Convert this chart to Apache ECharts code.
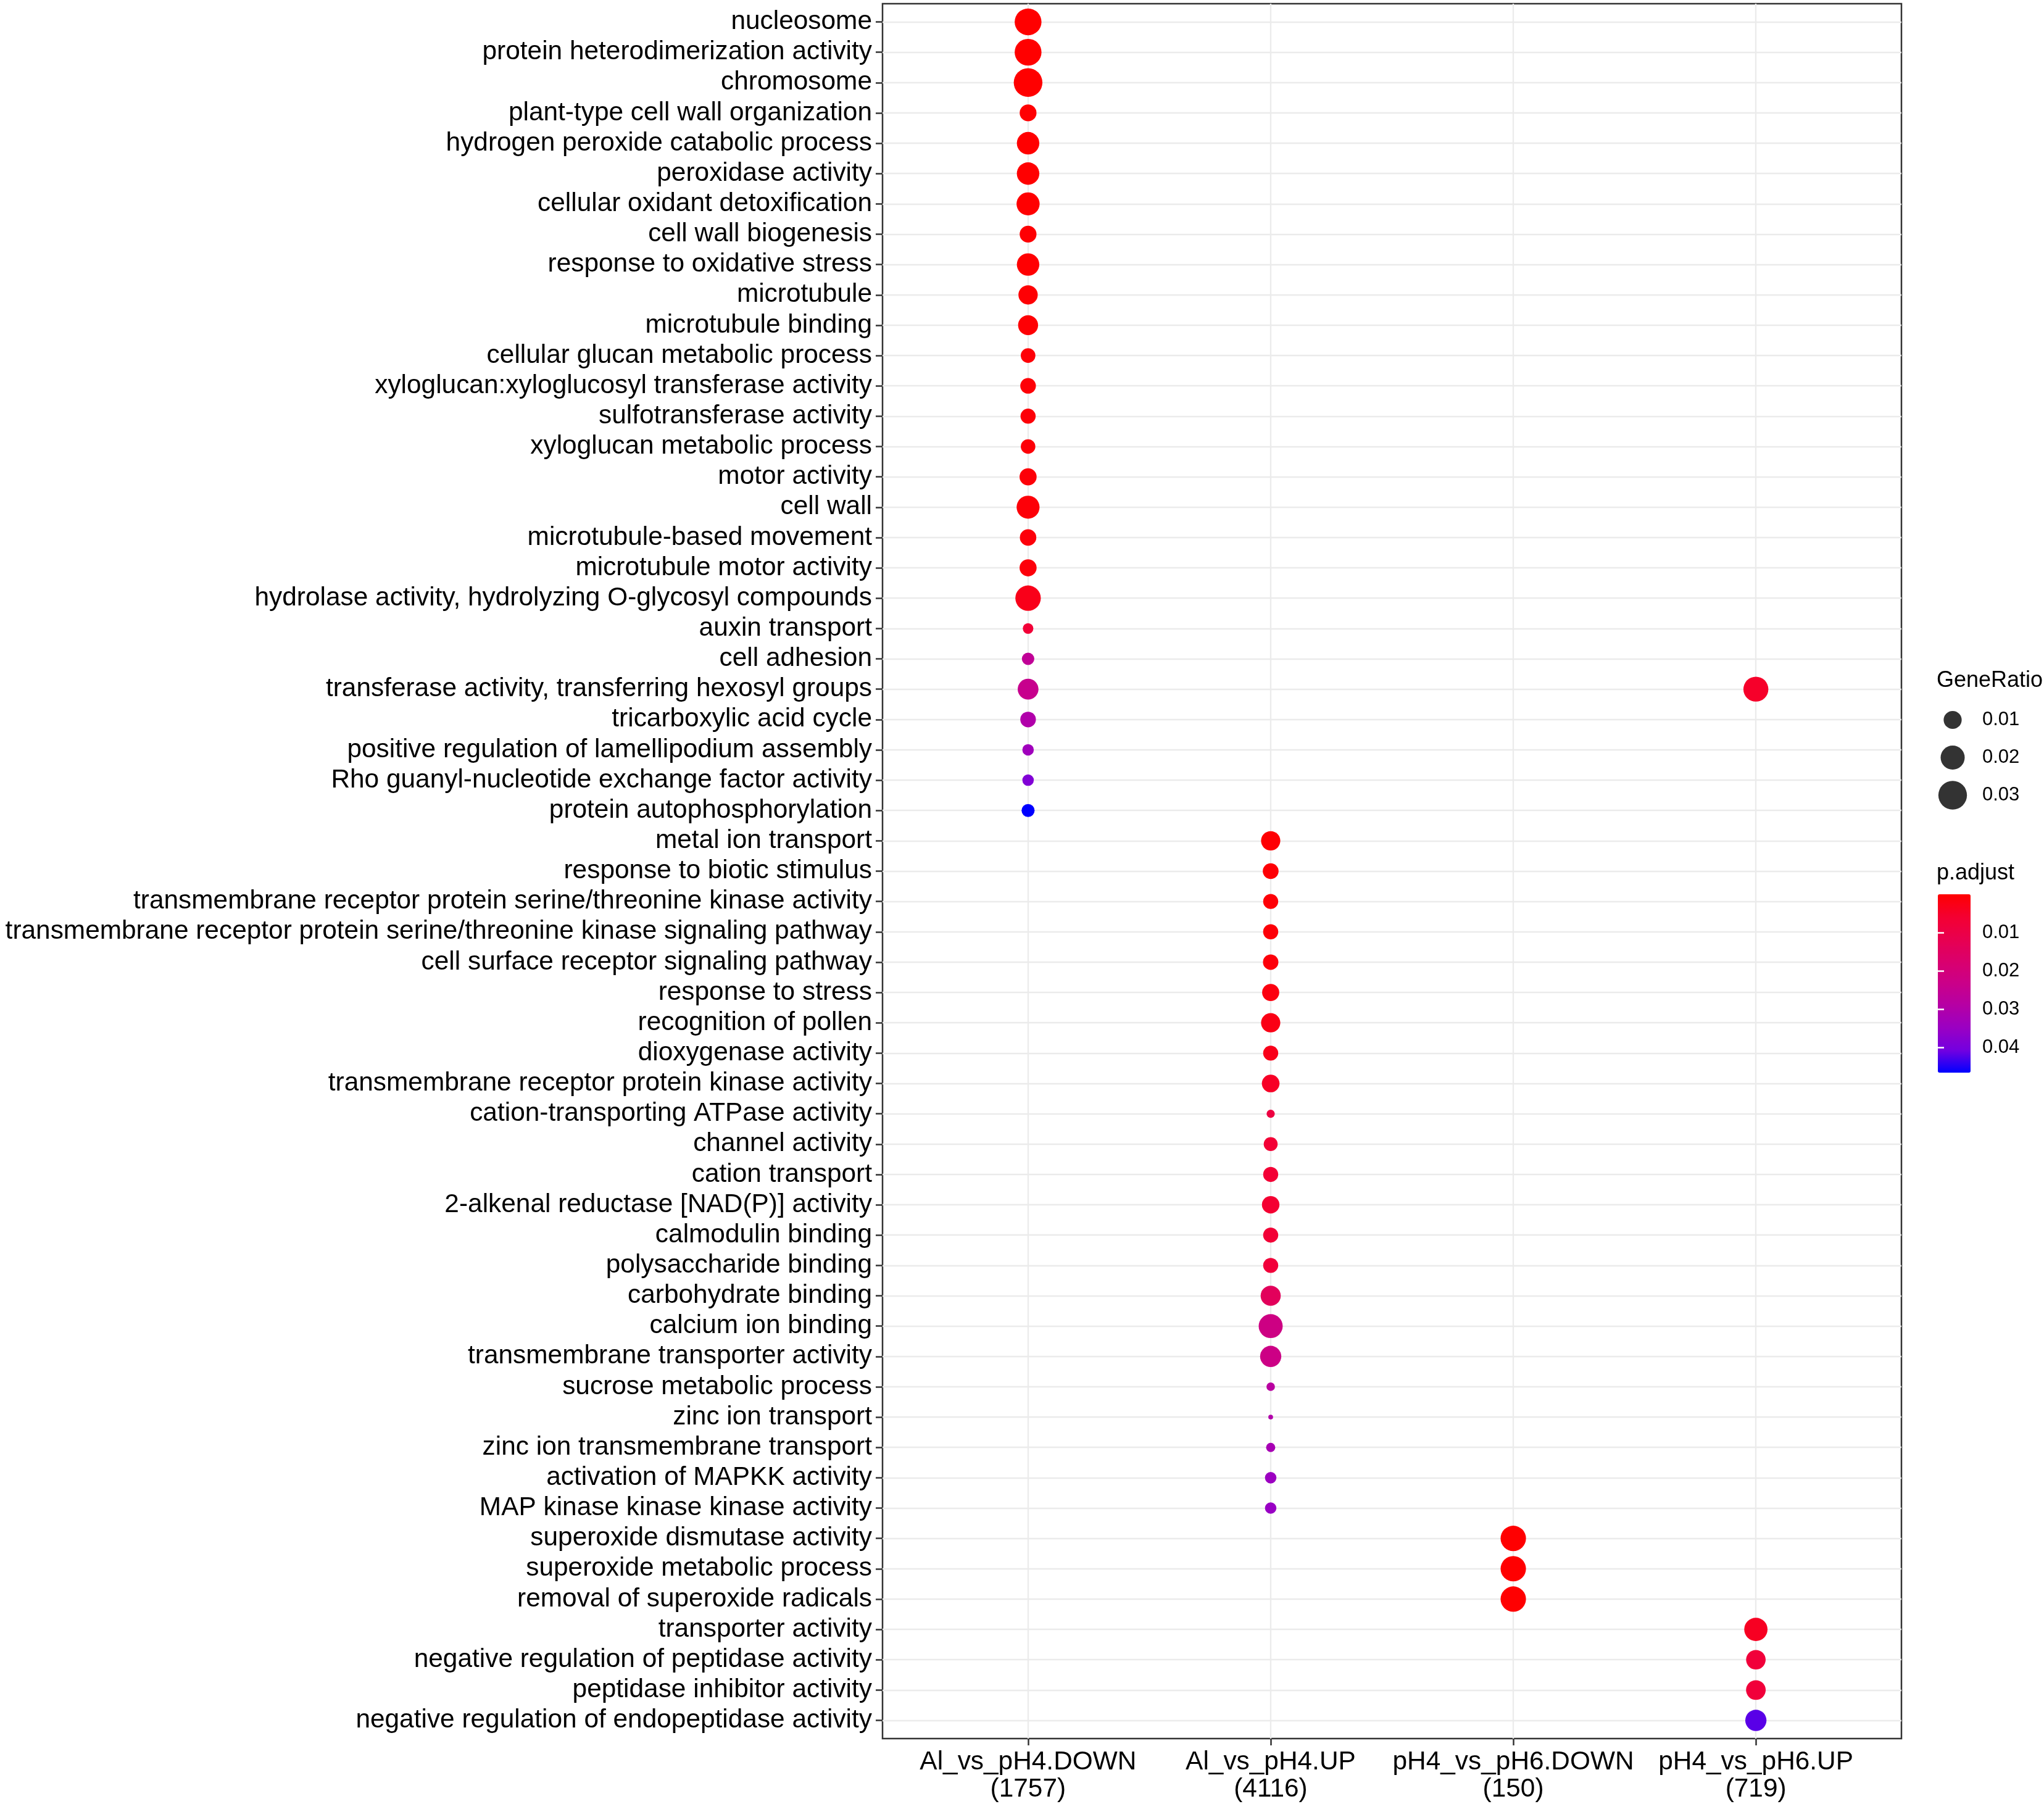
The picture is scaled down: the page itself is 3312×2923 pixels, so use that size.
<!DOCTYPE html>
<html style="height: 100%">
<head>
    <meta charset="utf-8">
    <script src="https://cdn.jsdelivr.net/npm/echarts@6.0.0/dist/echarts.min.js"></script>
</head>
<body style="height: 100%; margin: 0; background: #fff">
<div id="main" style="width: 3312px; height: 2923px;"></div>
<script type="text/javascript">
    // GO terms, top to bottom
    const termOrder = [
        'nucleosome', 'protein heterodimerization activity', 'chromosome', 'plant-type cell wall organization',
        'hydrogen peroxide catabolic process', 'peroxidase activity', 'cellular oxidant detoxification',
        'cell wall biogenesis', 'response to oxidative stress', 'microtubule', 'microtubule binding',
        'cellular glucan metabolic process', 'xyloglucan:xyloglucosyl transferase activity', 'sulfotransferase activity',
        'xyloglucan metabolic process', 'motor activity', 'cell wall', 'microtubule-based movement',
        'microtubule motor activity', 'hydrolase activity, hydrolyzing O-glycosyl compounds', 'auxin transport',
        'cell adhesion', 'transferase activity, transferring hexosyl groups', 'tricarboxylic acid cycle',
        'positive regulation of lamellipodium assembly', 'Rho guanyl-nucleotide exchange factor activity',
        'protein autophosphorylation',
        'metal ion transport', 'response to biotic stimulus',
        'transmembrane receptor protein serine/threonine kinase activity',
        'transmembrane receptor protein serine/threonine kinase signaling pathway',
        'cell surface receptor signaling pathway', 'response to stress', 'recognition of pollen', 'dioxygenase activity',
        'transmembrane receptor protein kinase activity', 'cation-transporting ATPase activity', 'channel activity',
        'cation transport', '2-alkenal reductase [NAD(P)] activity', 'calmodulin binding', 'polysaccharide binding',
        'carbohydrate binding', 'calcium ion binding', 'transmembrane transporter activity', 'sucrose metabolic process',
        'zinc ion transport', 'zinc ion transmembrane transport', 'activation of MAPKK activity',
        'MAP kinase kinase kinase activity',
        'superoxide dismutase activity', 'superoxide metabolic process', 'removal of superoxide radicals',
        'transporter activity', 'negative regulation of peptidase activity', 'peptidase inhibitor activity',
        'negative regulation of endopeptidase activity'
    ];

    const clusterLabels = ['Al_vs_pH4.DOWN\n(1757)', 'Al_vs_pH4.UP\n(4116)', 'pH4_vs_pH6.DOWN\n(150)', 'pH4_vs_pH6.UP\n(719)'];

    // Al_vs_pH4.DOWN
    const alDownTerms = termOrder.slice(0, 27);
    const alDownRatio = [0.0258, 0.0258, 0.0302, 0.0084, 0.0170, 0.0170, 0.0181, 0.0084, 0.0170, 0.0118, 0.0128,
        0.0060, 0.0070, 0.0065, 0.0059, 0.0087, 0.0179, 0.0080, 0.0087, 0.0228, 0.0027, 0.0040, 0.0141, 0.0070,
        0.0033, 0.0033, 0.0045];
    const alDownPadj = [0.00001, 0.00002, 0.00003, 0.0002, 0.0001, 0.0001, 0.0001, 0.0004, 0.0002, 0.0005, 0.0005,
        0.0008, 0.0008, 0.0009, 0.001, 0.001, 0.001, 0.0012, 0.0012, 0.003, 0.007, 0.026, 0.024, 0.030,
        0.0335, 0.0386, 0.0465];

    // Al_vs_pH4.UP
    const alUpTerms = termOrder.slice(27, 50);
    const alUpRatio = [0.0117, 0.0072, 0.0064, 0.0065, 0.0068, 0.0088, 0.0117, 0.0064, 0.0095, 0.0016, 0.0053,
        0.0064, 0.0093, 0.0064, 0.0064, 0.0130, 0.0199, 0.0148, 0.0017, 0.0010, 0.0020, 0.0033, 0.0033];
    const alUpPadj = [0.0004, 0.0006, 0.0008, 0.001, 0.0012, 0.0018, 0.0025, 0.003, 0.0045, 0.009, 0.0065,
        0.0065, 0.006, 0.0068, 0.0075, 0.014, 0.022, 0.0225, 0.028, 0.030, 0.032, 0.0345, 0.035];

    // pH4_vs_pH6.DOWN
    const ph6DownTerms = ['superoxide dismutase activity', 'superoxide metabolic process', 'removal of superoxide radicals'];
    const ph6DownRatio = [0.0227, 0.0227, 0.0227];
    const ph6DownPadj = [0.0001, 0.0001, 0.0001];

    // pH4_vs_pH6.UP
    const ph6UpTerms = ['transferase activity, transferring hexosyl groups', 'transporter activity',
        'negative regulation of peptidase activity', 'peptidase inhibitor activity',
        'negative regulation of endopeptidase activity'];
    const ph6UpRatio = [0.0218, 0.0185, 0.0121, 0.0123, 0.0148];
    const ph6UpPadj = [0.005, 0.004, 0.0075, 0.0075, 0.042];

    const sizeBreaks = [0.01, 0.02, 0.03];
    const pBreaks = [0.01, 0.02, 0.03, 0.04];
    // red -> blue (Lab interpolation, sampled)
    const pColors = ['#FF0000', '#F40031', '#E8004F', '#DA006D', '#CA0089', '#B500A5', '#9A00C3', '#7300E0', '#0000FF'];

    const groups = [
        [alDownTerms, alDownRatio, alDownPadj],
        [alUpTerms, alUpRatio, alUpPadj],
        [ph6DownTerms, ph6DownRatio, ph6DownPadj],
        [ph6UpTerms, ph6UpRatio, ph6UpPadj]
    ];

    let points = [];
    groups.forEach(function (g, ci) {
        g[0].forEach(function (t, k) {
            points.push([ci + 1, termOrder.indexOf(t) + 1, g[1][k], g[2][k]]);
        });
    });

    const allRatio = points.map(p => p[2]);
    const allPadj = points.map(p => p[3]);
    const rMin = Math.min(...allRatio), rMax = Math.max(...allRatio);
    const pMin = Math.min(...allPadj), pMax = Math.max(...allPadj);

    // ggplot scale_size: area scaled
    function sizeOf(v) {
        let t = Math.max(0, (v - rMin) / (rMax - rMin));
        return 7.7 + 38.8 * Math.sqrt(t);
    }

    const font = 'Liberation Sans, Arial, sans-serif';
    const tickStyle = {color: '#333333', width: 2.5};

    let gridLines = [];
    termOrder.forEach((t, i) => gridLines.push({yAxis: i + 1}));
    clusterLabels.forEach((c, i) => gridLines.push({xAxis: i + 1}));

    let chart = echarts.init(document.getElementById('main'));
    let option = {
        animation: false,
        backgroundColor: '#ffffff',
        title: [{
            text: 'GeneRatio', left: 3138, top: 1085, padding: 0,
            textStyle: {fontFamily: font, fontSize: 36, fontWeight: 'normal', color: '#000', lineHeight: 36}
        }, {
            text: 'p.adjust', left: 3138, top: 1397, padding: 0,
            textStyle: {fontFamily: font, fontSize: 36, fontWeight: 'normal', color: '#000', lineHeight: 36}
        }],
        grid: [{
            left: 1430, top: 6, width: 1651, height: 2811,
            show: true, borderColor: '#333333', borderWidth: 2.5, backgroundColor: '#fff',
            outerBoundsMode: 'none'
        }, {
            left: 3139, top: 1136, width: 50, height: 183, outerBoundsMode: 'none'
        }, {
            left: 3140, top: 1449, width: 53, height: 289, outerBoundsMode: 'none'
        }],
        xAxis: [{
            type: 'value', gridIndex: 0, min: 0.4, max: 4.6,
            axisLine: {show: false},
            splitLine: {show: false},
            axisTick: {show: true, customValues: [1, 2, 3, 4], length: 11, lineStyle: tickStyle},
            axisLabel: {
                customValues: [1, 2, 3, 4],
                formatter: v => clusterLabels[Math.round(v) - 1],
                fontFamily: font, fontSize: 42.4, lineHeight: 44, color: '#000', margin: 16
            }
        }, {
            type: 'category', gridIndex: 1, data: [''], show: false
        }, {
            type: 'value', gridIndex: 2, show: false
        }],
        yAxis: [{
            type: 'value', gridIndex: 0, min: 0.4, max: 57.6, inverse: true,
            axisLine: {show: false},
            splitLine: {show: false},
            axisTick: {show: true, customValues: termOrder.map((t, i) => i + 1), length: 11, lineStyle: tickStyle},
            axisLabel: {
                customValues: termOrder.map((t, i) => i + 1),
                formatter: v => termOrder[Math.round(v) - 1],
                fontFamily: font, fontSize: 42.4, color: '#000', margin: 17
            }
        }, {
            type: 'category', gridIndex: 1, inverse: true, position: 'right',
            data: sizeBreaks.map(v => v.toFixed(2)),
            axisLine: {show: false}, axisTick: {show: false}, splitLine: {show: false},
            axisLabel: {fontFamily: font, fontSize: 31, color: '#000', margin: 23}
        }, {
            type: 'value', gridIndex: 2, min: pMin, max: pMax, inverse: true, position: 'right', z: 10,
            axisLine: {show: false}, splitLine: {show: false},
            axisTick: {show: true, inside: true, customValues: pBreaks, length: 10, lineStyle: {color: '#fff', width: 2.5}},
            axisLabel: {
                customValues: pBreaks, formatter: v => v.toFixed(2),
                fontFamily: font, fontSize: 31, color: '#000', margin: 19
            }
        }, {
            type: 'value', gridIndex: 2, min: pMin, max: pMax, inverse: true, position: 'left', z: 10,
            axisLine: {show: false}, splitLine: {show: false}, axisLabel: {show: false},
            axisTick: {show: true, inside: true, customValues: pBreaks, length: 10, lineStyle: {color: '#fff', width: 2.5}}
        }],
        visualMap: {
            type: 'continuous', seriesIndex: 0, dimension: 3,
            min: pMin, max: pMax, inverse: true, orient: 'vertical',
            left: 3140, top: 1449, itemWidth: 53, itemHeight: 289, padding: 0,
            calculable: false, hoverLink: false,
            inRange: {color: pColors}
        },
        series: [{
            type: 'scatter', xAxisIndex: 0, yAxisIndex: 0, z: 3,
            symbol: 'circle',
            symbolSize: val => sizeOf(val[2]),
            itemStyle: {opacity: 1},
            data: points,
            markLine: {
                silent: true, z: 1, symbol: ['none', 'none'],
                label: {show: false},
                lineStyle: {color: '#EBEBEB', width: 2.3, type: 'solid'},
                emphasis: {disabled: true},
                data: gridLines
            }
        }, {
            type: 'scatter', xAxisIndex: 1, yAxisIndex: 1,
            symbol: 'circle',
            symbolSize: val => sizeOf(val[2]),
            itemStyle: {color: '#000'},
            data: sizeBreaks.map((v, i) => [0, i, v])
        }]
    };
    chart.setOption(option);
</script>
</body>
</html>
